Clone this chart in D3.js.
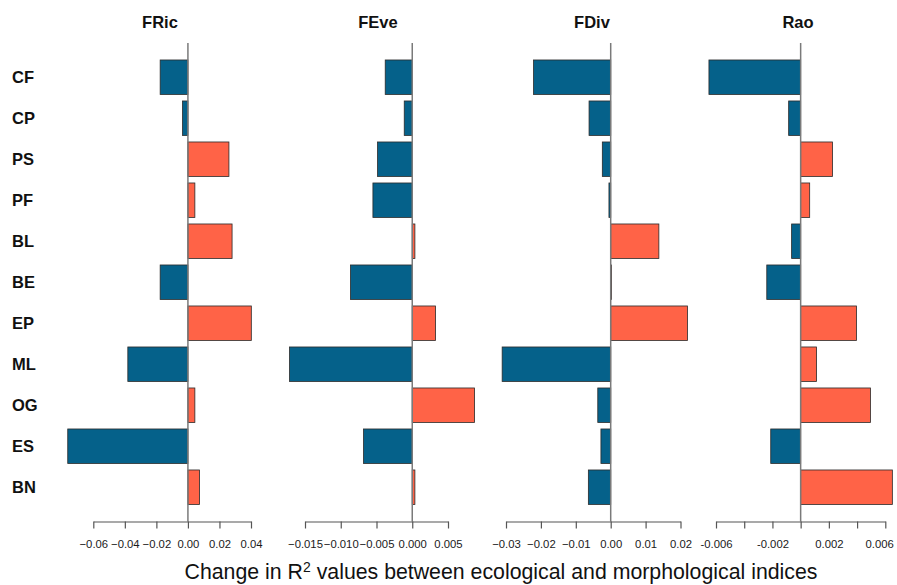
<!DOCTYPE html>
<html>
<head>
<meta charset="utf-8">
<script src="https://cdn.jsdelivr.net/npm/d3@7"></script>
<style>
  html, body { margin: 0; padding: 0; background: #fff; }
  svg { display: block; font-family: Arial, "Liberation Sans", sans-serif; }
</style>
</head>
<body>
<svg id="chart" width="897" height="585"></svg>
<script>
// Trait groups (rows, top to bottom)
const categories = ["CF", "CP", "PS", "PF", "BL", "BE", "EP", "ML", "OG", "ES", "BN"];

// Diversity indices (panels, left to right)
const indices = ["FRic", "FEve", "FDiv", "Rao"];

// Change in R² for each trait group, one array per index
const fricValues = [-0.0176, -0.0034, 0.0260, 0.0044, 0.0280, -0.0176, 0.0402, -0.0381, 0.0044, -0.0762, 0.0074];
const feveValues = [-0.00378, -0.00112, -0.00485, -0.00550, 0.00037, -0.00863, 0.00326, -0.01716, 0.00872, -0.00681, 0.00037];
const fdivValues = [-0.0221, -0.0062, -0.0024, -0.0005, 0.0138, 0.0002, 0.0220, -0.0311, -0.0037, -0.0028, -0.0064];
const raoValues  = [-0.0065, -0.00085, 0.00226, 0.00064, -0.00064, -0.0024, 0.00396, 0.00113, 0.00495, -0.00212, 0.0065];

// Tick values for each panel's axis
const fricTicks = [-0.06, -0.04, -0.02, 0.00, 0.02, 0.04];
const feveTicks = [-0.015, -0.010, -0.005, 0.000, 0.005];
const fdivTicks = [-0.03, -0.02, -0.01, 0.00, 0.01, 0.02];
const raoTicks  = [-0.006, -0.004, -0.002, 0.000, 0.002, 0.004, 0.006];
// Rao only labels every other tick
const raoTickLabels = ["-0.006", "", "-0.002", "", "0.002", "", "0.006"];

const axisTitle = "Change in R";
const axisTitleTail = " values between ecological and morphological indices";

// ---- layout ----
const svg = d3.select("#chart");
const NEG = "#05618a", POS = "#ff6347";
const axisY = 521.5;
const lineTop = 43;

const y = d3.scaleBand()
  .domain(categories)
  .range([56.7, 507.7])
  .paddingInner(0.16)
  .paddingOuter(0.08);

// Each panel: x pixel range spanned by its first and last tick
const panels = [
  { name: indices[0], values: fricValues, ticks: fricTicks, labels: fricTicks.map(d3.format(".2f")), px: [93.3, 251.0], titleX: 160 },
  { name: indices[1], values: feveValues, ticks: feveTicks, labels: feveTicks.map(d3.format(".3f")), px: [305.0, 448.0], titleX: 378 },
  { name: indices[2], values: fdivValues, ticks: fdivTicks, labels: fdivTicks.map(d3.format(".2f")), px: [506.0, 680.5], titleX: 592 },
  { name: indices[3], values: raoValues, ticks: raoTicks, labels: raoTickLabels, px: [716.0, 885.3], titleX: 798 }
];

// Row labels
svg.append("g").selectAll("text")
  .data(categories)
  .join("text")
  .attr("x", 12)
  .attr("y", d => y(d) + y.bandwidth() / 2)
  .attr("dy", "0.36em")
  .attr("font-size", 16.5)
  .attr("font-weight", "bold")
  .attr("fill", "#111")
  .text(d => d);

panels.forEach(p => {
  const tmin = p.ticks[0], tmax = p.ticks[p.ticks.length - 1];
  const x = d3.scaleLinear().domain([tmin, tmax]).range(p.px);
  const g = svg.append("g");

  // Panel title
  g.append("text")
    .attr("x", p.titleX)
    .attr("y", 28)
    .attr("text-anchor", "middle")
    .attr("font-size", 16.5)
    .attr("font-weight", "bold")
    .attr("fill", "#111")
    .text(p.name);

  // Bars
  g.append("g").selectAll("rect")
    .data(categories.map((c, i) => ({ c, v: p.values[i] })))
    .join("rect")
    .attr("x", d => Math.min(x(0), x(d.v)))
    .attr("y", d => y(d.c))
    .attr("width", d => Math.abs(x(d.v) - x(0)))
    .attr("height", y.bandwidth())
    .attr("fill", d => d.v < 0 ? NEG : POS)
    .attr("stroke", "#2a2a2a")
    .attr("stroke-width", 0.8);

  // Zero line
  g.append("line")
    .attr("x1", x(0)).attr("x2", x(0))
    .attr("y1", lineTop).attr("y2", axisY)
    .attr("stroke", "#7a7a7a")
    .attr("stroke-width", 1.5);

  // Bottom axis
  const axis = d3.axisBottom(x)
    .tickValues(p.ticks)
    .tickFormat((d, i) => p.labels[i])
    .tickSizeOuter(0)
    .tickSizeInner(7)
    .tickPadding(11);
  const ag = g.append("g")
    .attr("transform", `translate(0,${axisY})`)
    .call(axis);
  ag.select(".domain").attr("stroke", "#555").attr("stroke-width", 1.2);
  ag.selectAll(".tick line").attr("stroke", "#555").attr("stroke-width", 1.2);
  ag.selectAll(".tick text")
    .attr("font-size", 11.3)
    .attr("font-family", "Arial, 'Liberation Sans', sans-serif")
    .attr("fill", "#1a1a1a");
  // keep the right-most label inside the page
  if (p.px[1] > 870) {
    ag.selectAll(".tick text").filter((d, i, n) => i === n.length - 1)
      .attr("text-anchor", "end")
      .attr("dx", 8);
  }
});

// Shared x-axis title
const t = svg.append("text")
  .attr("x", 501)
  .attr("y", 579)
  .attr("text-anchor", "middle")
  .attr("font-size", 21.3)
  .attr("fill", "#111");
t.append("tspan").text(axisTitle);
t.append("tspan").attr("dy", -7).attr("font-size", 14).text("2");
t.append("tspan").attr("dy", 7).text(axisTitleTail);
</script>
</body>
</html>
